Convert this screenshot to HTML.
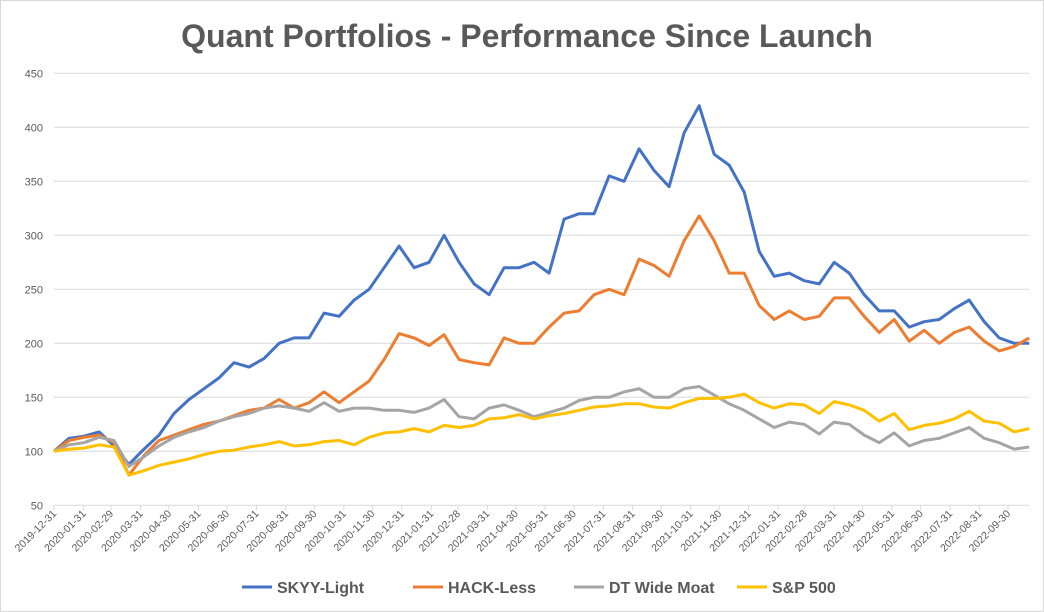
<!DOCTYPE html>
<html><head><meta charset="utf-8"><style>
body{margin:0;background:#fff;}
svg{display:block;font-family:"Liberation Sans",sans-serif;}
</style></head><body>
<svg id="chart" width="1044" height="612" viewBox="0 0 1044 612" xmlns="http://www.w3.org/2000/svg">
<rect x="0.5" y="0.5" width="1043" height="611" fill="#fff" stroke="#d9d9d9"/>
<text x="527" y="47" text-anchor="middle" font-size="32" font-weight="bold" fill="#595959">Quant Portfolios - Performance Since Launch</text>
<g id="grid"></g><g id="yticks"></g><g id="xticks"></g><g id="series"></g>
<g font-size="16" font-weight="bold" fill="#595959">
<g><line x1="242" y1="587" x2="272" y2="587" stroke="#4472c4" stroke-width="3"/><text x="277" y="593">SKYY-Light</text></g>
<g><line x1="413" y1="587" x2="443" y2="587" stroke="#ed7d31" stroke-width="3"/><text x="448" y="593">HACK-Less</text></g>
<g><line x1="574" y1="587" x2="604" y2="587" stroke="#a5a5a5" stroke-width="3"/><text x="609" y="593">DT Wide Moat</text></g>
<g><line x1="737" y1="587" x2="767" y2="587" stroke="#ffc000" stroke-width="3"/><text x="772" y="593">S&amp;P 500</text></g>
</g>
</svg>
<script>
const tickLabels = ["2019-12-31","2020-01-31","2020-02-29","2020-03-31","2020-04-30","2020-05-31","2020-06-30","2020-07-31","2020-08-31","2020-09-30","2020-10-31","2020-11-30","2020-12-31","2021-01-31","2021-02-28","2021-03-31","2021-04-30","2021-05-31","2021-06-30","2021-07-31","2021-08-31","2021-09-30","2021-10-31","2021-11-30","2021-12-31","2022-01-31","2022-02-28","2022-03-31","2022-04-30","2022-05-31","2022-06-30","2022-07-31","2022-08-31","2022-09-30"];
const yTicks = [50,100,150,200,250,300,350,400,450];
const sampleDays = Array.from({length:66},(_,i)=>i*15.79);
const skyy = [100,112,114,118,105,88,102,115,135,148,158,168,182,178,186,200,205,205,228,225,240,250,270,290,270,275,300,275,255,245,270,270,275,265,315,320,320,355,350,380,360,345,395,420,375,365,340,285,262,265,258,255,275,265,245,230,230,215,220,222,232,240,220,205,200,200];
const hack = [100,110,113,115,108,78,96,110,115,120,125,128,133,138,140,148,140,145,155,145,155,165,185,209,205,198,208,185,182,180,205,200,200,215,228,230,245,250,245,278,272,262,295,318,295,265,265,235,222,230,222,225,242,242,225,210,222,202,212,200,210,215,202,193,197,205];
const moat = [100,106,108,113,110,86,95,105,113,118,122,128,132,135,140,142,140,137,145,137,140,140,138,138,136,140,148,132,130,140,143,138,132,136,140,147,150,150,155,158,150,150,158,160,152,144,138,130,122,127,125,116,127,125,115,108,117,105,110,112,117,122,112,108,102,104];
const sp500 = [100,102,103,106,104,78,82,87,90,93,97,100,101,104,106,109,105,106,109,110,106,113,117,118,121,118,124,122,124,130,131,134,130,133,135,138,141,142,144,144,141,140,145,149,149,150,153,145,140,144,143,135,146,143,138,128,135,120,124,126,130,137,128,126,118,121];

const NS="http://www.w3.org/2000/svg";
const X0=54, PXD=0.9502, Y450=73.3, Y50=505.3;
function xDay(d){return X0+d*PXD;}
function yVal(v){return Y50-(v-50)*(Y50-Y450)/400;}
function dayOf(s){return Math.round((Date.parse(s)-Date.parse("2019-12-31"))/86400000);}
function mk(tag,attrs,parent){const e=document.createElementNS(NS,tag);for(const k in attrs)e.setAttribute(k,attrs[k]);parent.appendChild(e);return e;}
const grid=document.getElementById('grid'),yt=document.getElementById('yticks'),xt=document.getElementById('xticks'),ser=document.getElementById('series');
yTicks.forEach(v=>{
  const l=mk('line',{x1:X0,x2:1029,y1:yVal(v),y2:yVal(v),stroke:'#d9d9d9','stroke-width':1},grid);
  
  
  const t=mk('text',{x:43,y:yVal(v)+4,'text-anchor':'end','font-size':11,fill:'#595959'},yt);
  t.textContent=v;
  
  
});
tickLabels.forEach(s=>{
  const x=xDay(dayOf(s));
  const tk=mk('line',{x1:x,x2:x,y1:Y50,y2:Y50+5,stroke:'#d9d9d9'},xt);
  
  
  const t=mk('text',{x:x+3,y:Y50+9,'text-anchor':'end','font-size':10.5,fill:'#595959',transform:`rotate(-45 ${x+3} ${Y50+9})`},xt);
  t.textContent=s;
  
  
});
[[skyy,'#4472c4','skyy-light'],[hack,'#ed7d31','hack-less'],[moat,'#a5a5a5','dt-wide-moat'],[sp500,'#ffc000','sp500']].forEach(([vals,c,n])=>{
  const d=vals.map((v,i)=>(i?'L':'M')+xDay(sampleDays[i]).toFixed(1)+','+yVal(v).toFixed(1)).join('');
  const p=mk('path',{d:d,fill:'none',stroke:c,'stroke-width':3,'stroke-linejoin':'round'},ser);
  
  
});
</script>
</body></html>
